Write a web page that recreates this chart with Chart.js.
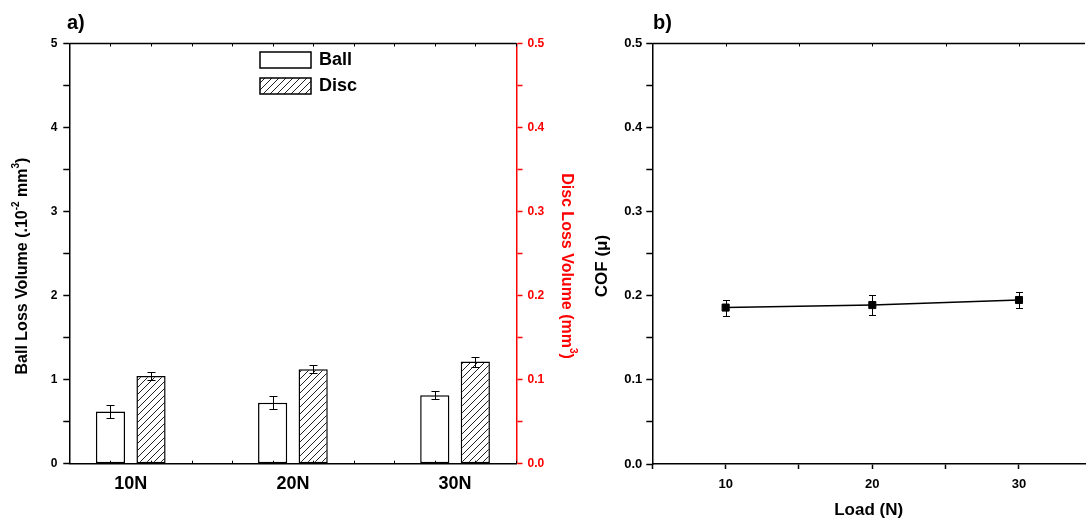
<!DOCTYPE html>
<html>
<head>
<meta charset="utf-8">
<script src="https://cdn.jsdelivr.net/npm/chart.js@4.4.0/dist/chart.umd.min.js"></script>
<style>
  html, body { margin: 0; padding: 0; background: #fff; overflow: hidden; }
  #wrap { position: relative; width: 1091px; height: 523px; }
  #chartA { position: absolute; left: 0; top: 0; }
  #chartB { position: absolute; left: 580px; top: 0; }
</style>
</head>
<body>
<div id="wrap">
  <canvas id="chartA" width="580" height="523"></canvas>
  <canvas id="chartB" width="511" height="523"></canvas>
</div>
<script>
// a) wear volume per load
const loads = ['10N', '20N', '30N']
const loadPos = [1, 2, 3]
const ballVolume = [0.62, 0.725, 0.815]     // .10^-2 mm3
const ballErr = [0.08, 0.08, 0.048]
const discVolume = [0.1045, 0.1125, 0.1215] // mm3
const discErr = [0.005, 0.005, 0.006]

// b) coefficient of friction
const loadN = [10, 20, 30]
const cof = [0.186, 0.189, 0.195]
const cofErr = [0.0095, 0.012, 0.0097]

const FONT = '"Liberation Sans", Arial, Helvetica, sans-serif'
Chart.defaults.font.family = FONT
Chart.defaults.font.weight = 'bold'
Chart.defaults.color = '#000'

// hatch for disc bars  ////
function hatch() {
  const c = document.createElement('canvas')
  c.width = 7; c.height = 7
  const g = c.getContext('2d')
  g.fillStyle = '#fff'
  g.fillRect(0, 0, 7, 7)
  g.strokeStyle = '#222'
  g.lineWidth = 1
  g.beginPath()
  g.moveTo(-1, 8); g.lineTo(8, -1)
  g.moveTo(-1, 1); g.lineTo(1, -1)
  g.moveTo(6, 8); g.lineTo(8, 6)
  g.stroke()
  return g.createPattern(c, 'repeat')
}
const discFill = hatch()

// text with superscripts, centred on (x,y), rotated
function richText(ctx, parts, x, y, angle, size, color) {
  ctx.save()
  ctx.translate(x, y)
  ctx.rotate(angle)
  ctx.fillStyle = color
  ctx.textBaseline = 'middle'
  ctx.textAlign = 'left'
  const fonts = parts.map(p => `bold ${p[1] ? Math.round(size * 0.6) : size}px ${FONT}`)
  let total = 0
  parts.forEach((p, i) => { ctx.font = fonts[i]; total += ctx.measureText(p[0]).width })
  let cx = -total / 2
  parts.forEach((p, i) => {
    ctx.font = fonts[i]
    ctx.fillText(p[0], cx, p[1] ? -size * 0.42 : 0)
    cx += ctx.measureText(p[0]).width
  })
  ctx.restore()
}

const errorBars = {
  id: 'errorBars',
  afterDatasetsDraw(chart, args, opts) {
    const ctx = chart.ctx
    const cap = opts.cap || 4
    chart.data.datasets.forEach((ds, i) => {
      if (!ds.errors) return
      const meta = chart.getDatasetMeta(i)
      const yScale = chart.scales[meta.yAxisID]
      ctx.save()
      ctx.strokeStyle = '#000'
      ctx.lineWidth = 1
      ctx.beginPath()
      meta.data.forEach((el, j) => {
        const v = ds.data[j].y
        const e = ds.errors[j]
        const x = Math.round(el.x) + 0.5
        const top = Math.round(yScale.getPixelForValue(v + e)) + 0.5
        const bot = Math.round(yScale.getPixelForValue(v - e)) + 0.5
        ctx.moveTo(x, top); ctx.lineTo(x, bot)
        ctx.moveTo(x - cap, top); ctx.lineTo(x + cap, top)
        ctx.moveTo(x - cap, bot); ctx.lineTo(x + cap, bot)
      })
      ctx.stroke()
      ctx.restore()
    })
  }
}

const decoA = {
  id: 'decoA',
  afterDraw(chart) {
    const {ctx, chartArea: {left, right, top, bottom}, scales: {x}} = chart
    ctx.save()
    // top frame + inner minor ticks
    ctx.strokeStyle = '#000'
    ctx.lineWidth = 1.5
    ctx.beginPath(); ctx.moveTo(left, top); ctx.lineTo(right, top); ctx.stroke()
    ctx.lineWidth = 1
    ctx.beginPath()
    for (let v = 0.875; v < x.max; v += 0.25) {
      const px = Math.round(x.getPixelForValue(v)) + 0.5
      ctx.moveTo(px, top); ctx.lineTo(px, top + 3)
      ctx.moveTo(px, bottom); ctx.lineTo(px, bottom - 3)
    }
    ctx.stroke()

    // panel letter
    ctx.fillStyle = '#000'
    ctx.font = `bold 20px ${FONT}`
    ctx.textBaseline = 'alphabetic'
    ctx.fillText('a)', 67, 29)

    // legend
    ctx.lineWidth = 1.5
    ctx.fillStyle = '#fff'
    ctx.fillRect(260, 52, 51, 16)
    ctx.strokeRect(260, 52, 51, 16)
    ctx.fillStyle = discFill
    ctx.fillRect(260, 78, 51, 16)
    ctx.strokeRect(260, 78, 51, 16)
    ctx.fillStyle = '#000'
    ctx.font = `bold 18px ${FONT}`
    ctx.textBaseline = 'middle'
    ctx.fillText('Ball', 319, 60)
    ctx.fillText('Disc', 319, 86)
    ctx.restore()

    // axis titles
    richText(ctx, [['Ball Loss Volume (.10'], ['-2', true], [' mm'], ['3', true], [')']],
      23, 266, -Math.PI / 2, 16, '#000')
    richText(ctx, [['Disc Loss Volume (mm'], ['3', true], [')']],
      566, 266, Math.PI / 2, 16, '#f00')
  }
}

const decoB = {
  id: 'decoB',
  afterDraw(chart) {
    const {ctx, chartArea: {left, right, top}, scales: {x}} = chart
    ctx.save()
    ctx.strokeStyle = '#000'
    ctx.lineWidth = 1.5
    ctx.beginPath(); ctx.moveTo(left, top); ctx.lineTo(right, top); ctx.stroke()
    ctx.lineWidth = 1
    ctx.beginPath()
    x.ticks.forEach(t => {
      const px = Math.round(x.getPixelForValue(t.value)) + 0.5
      ctx.moveTo(px, top); ctx.lineTo(px, top + 3)
    })
    ctx.stroke()
    ctx.fillStyle = '#000'
    ctx.font = `bold 20px ${FONT}`
    ctx.textBaseline = 'alphabetic'
    ctx.fillText('b)', 73, 29)
    ctx.restore()
    richText(ctx, [['COF (\u03bc)']], 22, 266, -Math.PI / 2, 17, '#000')
  }
}

const isTenth = v => Math.abs(v * 10 - Math.round(v * 10)) < 1e-6

new Chart(document.getElementById('chartA'), {
  type: 'bar',
  data: {
    datasets: [{
      label: 'Ball',
      data: loadPos.map((x, i) => ({x, y: ballVolume[i]})),
      errors: ballErr,
      yAxisID: 'y',
      backgroundColor: '#fff',
      borderColor: '#000',
      borderWidth: 1.5,
      borderSkipped: false,
      categoryPercentage: 0.5,
      barPercentage: 0.72
    }, {
      label: 'Disc',
      data: loadPos.map((x, i) => ({x, y: discVolume[i]})),
      errors: discErr,
      yAxisID: 'y2',
      backgroundColor: discFill,
      borderColor: '#000',
      borderWidth: 1.5,
      borderSkipped: false,
      categoryPercentage: 0.5,
      barPercentage: 0.72
    }]
  },
  options: {
    responsive: false,
    animation: false,
    layout: {padding: {top: 43.5, left: 0, right: 0, bottom: 0}},
    plugins: {legend: {display: false}, tooltip: {enabled: false}, errorBars: {cap: 4}},
    scales: {
      x: {
        type: 'linear', position: 'bottom', min: 0.621, max: 3.379, offset: false,
        afterBuildTicks: s => { s.ticks = loadPos.map(v => ({value: v})) },
        ticks: {
          callback: v => loads[loadPos.indexOf(v)] ?? '',
          font: {size: 18, weight: 'bold'}, color: '#000', padding: 2,
          maxRotation: 0, autoSkip: false
        },
        grid: {display: false, offset: false},
        border: {color: '#000', width: 1.5},
        afterFit: s => { s.height = 59.3 }
      },
      y: {
        position: 'left', min: 0, max: 5,
        ticks: {
          stepSize: 0.5, autoSkip: false,
          callback: v => Number.isInteger(v) ? v : '',
          font: {size: 12, weight: 'bold'}, color: '#000', padding: 6
        },
        grid: {drawOnChartArea: false, tickLength: 6, tickColor: '#000', tickWidth: 1.5},
        border: {color: '#000', width: 1.5},
        afterFit: s => { s.width = 69.3 }
      },
      y2: {
        position: 'right', min: 0, max: 0.5,
        ticks: {
          stepSize: 0.05, autoSkip: false,
          callback: v => isTenth(v) ? v.toFixed(1) : '',
          font: {size: 12, weight: 'bold'}, color: '#f00', padding: 5
        },
        grid: {drawOnChartArea: false, tickLength: 6, tickColor: '#f00', tickWidth: 1.5},
        border: {color: '#f00', width: 1.5},
        afterFit: s => { s.width = 63.5 }
      }
    }
  },
  plugins: [errorBars, decoA]
})

new Chart(document.getElementById('chartB'), {
  type: 'line',
  data: {
    datasets: [{
      label: 'COF',
      data: loadN.map((x, i) => ({x, y: cof[i]})),
      errors: cofErr,
      yAxisID: 'y',
      borderColor: '#000',
      backgroundColor: '#000',
      borderWidth: 1.5,
      pointStyle: 'rect',
      pointRadius: 5,
      pointBorderWidth: 1,
      tension: 0
    }]
  },
  options: {
    responsive: false,
    animation: false,
    layout: {padding: {top: 43.5, left: 0, right: 0, bottom: 0}},
    plugins: {legend: {display: false}, tooltip: {enabled: false}, errorBars: {cap: 3.5}},
    scales: {
      x: {
        type: 'linear', position: 'bottom', min: 5, max: 34.5,
        ticks: {
          stepSize: 5, includeBounds: false, autoSkip: false, maxRotation: 0,
          callback: v => v % 10 === 0 ? v : '',
          font: {size: 13, weight: 'bold'}, color: '#000', padding: 8
        },
        grid: {drawOnChartArea: false, tickLength: 5, tickColor: '#000', tickWidth: 1.5},
        border: {color: '#000', width: 1.5},
        title: {display: true, text: 'Load (N)', font: {size: 17, weight: 'bold'}, color: '#000', padding: {top: 0, bottom: 2}},
        afterFit: s => { s.height = 59 }
      },
      y: {
        position: 'left', min: 0, max: 0.5,
        ticks: {
          stepSize: 0.05, autoSkip: false,
          callback: v => isTenth(v) ? v.toFixed(1) : '',
          font: {size: 13, weight: 'bold'}, color: '#000', padding: 4
        },
        grid: {drawOnChartArea: false, tickLength: 6, tickColor: '#000', tickWidth: 1.5},
        border: {color: '#000', width: 1.5},
        afterFit: s => { s.width = 72.3 }
      }
    }
  },
  plugins: [errorBars, decoB]
})
</script>
</body>
</html>
